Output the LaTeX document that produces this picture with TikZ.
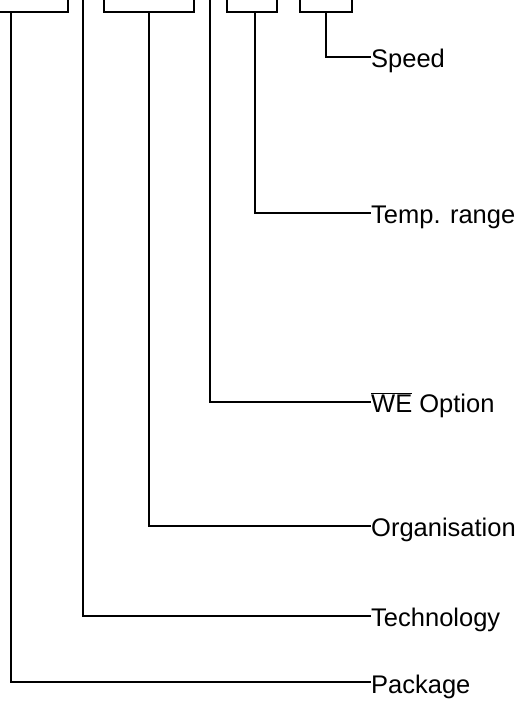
\documentclass[tikz,border=0pt]{standalone}
\usepackage{fontspec}
\setmainfont{Liberation Sans}
\begin{document}
\begin{tikzpicture}[x=1pt,y=-1pt,
  wire/.style={line width=2pt,line cap=rect},
  lbl/.style={anchor=base west,inner sep=0pt,font=\fontsize{25.5}{30}\selectfont}]
\useasboundingbox (0,0) rectangle (518,702);
% label nodes
\node[lbl] (speed) at (371,67) {Speed};
\node[lbl] (temp)  at (371,223) {Temp. range};
\node[lbl] (we)    at (371,412) {$\overline{\mbox{WE}}$ Option};
\node[lbl] (org)   at (371,536) {Organisation};
\node[lbl] (tech)  at (371,626) {Technology};
\node[lbl] (pack)  at (371,693) {Package};
% boxes (cut by the top edge)
\draw[wire] (-10,-20) -- (-10,12) -- (68,12) -- (68,-20);
\draw[wire] (104,-20) -- (104,12) -- (194,12) -- (194,-20);
\draw[wire] (227,-20) -- (227,12) -- (277,12) -- (277,-20);
\draw[wire] (300,-20) -- (300,12) -- (352,12) -- (352,-20);
% stem coordinates
\coordinate (s1) at (11,12);
\coordinate (s2) at (83,-20);
\coordinate (s3) at (149,12);
\coordinate (s4) at (210,-20);
\coordinate (s5) at (255,12);
\coordinate (s6) at (326,12);
% connectors
\draw[wire] (s6) |- ([yshift=10pt,xshift=-1pt]speed.base west);
\draw[wire] (s5) |- ([yshift=10pt,xshift=-1pt]temp.base west);
\draw[wire] (s4) |- ([yshift=10pt,xshift=-1pt]we.base west);
\draw[wire] (s3) |- ([yshift=10pt,xshift=-1pt]org.base west);
\draw[wire] (s2) |- ([yshift=10pt,xshift=-1pt]tech.base west);
\draw[wire] (s1) |- ([yshift=11pt,xshift=-1pt]pack.base west);
\end{tikzpicture}
\end{document}
